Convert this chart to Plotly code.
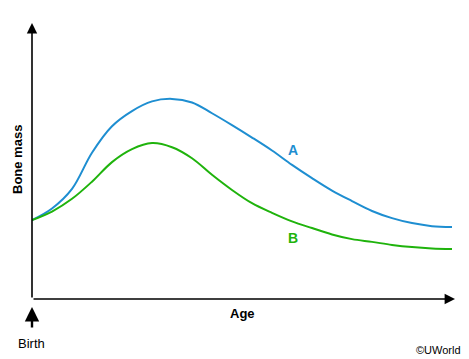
import plotly.graph_objects as go

# Sample ages (0-100 scale)
age = [0, 4.73, 9.46, 14.18, 18.91, 23.64, 28.37, 33.10, 37.83, 42.55, 47.28,
       52.01, 56.74, 61.47, 66.19, 70.92, 75.65, 80.38, 85.11, 89.83, 94.56, 99.29]

# Curve A (blue) bone mass
mass_a = [28.6, 32.8, 39.9, 53.0, 62.6, 68.1, 71.6, 72.5, 71.2, 67.3, 63.0,
          58.5, 53.8, 48.6, 43.8, 39.3, 35.5, 31.9, 29.3, 27.5, 26.4, 26.1]

# Curve B (green) bone mass
mass_b = [28.6, 31.7, 36.3, 42.5, 49.6, 54.3, 56.5, 55.0, 51.0, 45.0, 39.5,
          34.7, 31.2, 28.1, 25.7, 23.4, 21.7, 20.7, 19.6, 18.8, 18.3, 18.1]

curve_labels = ["A", "B"]
label_age = [61.7, 61.7]
label_mass = [53.3, 21.4]

BLUE = "#1e8ed1"
GREEN = "#1fb30c"
FONT = "Liberation Sans, Arial, sans-serif"

W, H = 469, 359
pl, pr, pt, pb = 32, 14, 23, 60
pw, ph = W - pl - pr, H - pt - pb


def paper(px, py):
    return (px - pl) / pw, (H - pb - py) / ph


fig = go.Figure()
fig.add_trace(go.Scatter(x=age, y=mass_a, mode="lines",
                         line=dict(color=BLUE, width=2, shape="spline", smoothing=1.0),
                         hoverinfo="skip"))
fig.add_trace(go.Scatter(x=age, y=mass_b, mode="lines",
                         line=dict(color=GREEN, width=2, shape="spline", smoothing=1.0),
                         hoverinfo="skip"))
fig.add_trace(go.Scatter(x=label_age, y=label_mass, mode="text", text=[f"<b>{t}</b>" for t in curve_labels],
                         textfont=dict(family=FONT, size=14, color=[BLUE, GREEN]),
                         hoverinfo="skip", cliponaxis=False))

ann = []
# axes arrows
ann.append(dict(x=0, y=1, ax=0, ay=0, xref="x domain", yref="y domain", axref="x domain", ayref="y domain",
                showarrow=True, arrowhead=2, arrowsize=1.3, arrowwidth=1.6, arrowcolor="black", text=""))
ann.append(dict(x=1, y=0, ax=0, ay=0, xref="x domain", yref="y domain", axref="x domain", ayref="y domain",
                showarrow=True, arrowhead=2, arrowsize=1.3, arrowwidth=1.6, arrowcolor="black", text=""))
# birth arrow (pixel offsets)
tx, ty = paper(32, 307)
ann.append(dict(x=tx, y=ty, ax=0, ay=22, xref="paper", yref="paper",
                showarrow=True, arrowhead=2, arrowsize=1.2, arrowwidth=2.4, arrowcolor="black", text=""))


def label(px, py, text, size=13, **kw):
    x, y = paper(px, py)
    d = dict(x=x, y=y, xref="paper", yref="paper", text=text, showarrow=False,
             xanchor="center", yanchor="middle",
             font=dict(family=FONT, size=size, color="black"))
    d.update(kw)
    ann.append(d)


label(17, 160, "<b>Bone mass</b>", textangle=-90)
label(242, 313, "<b>Age</b>")
label(31, 343, "Birth")
label(463, 350, "©UWorld", size=11, xanchor="right")

fig.update_layout(
    width=W, height=H,
    margin=dict(l=pl, r=pr, t=pt, b=pb),
    paper_bgcolor="white", plot_bgcolor="white",
    showlegend=False,
    xaxis=dict(range=[0, 100], visible=False, fixedrange=True),
    yaxis=dict(range=[0, 100], visible=False, fixedrange=True),
    annotations=ann,
)

fig.write_html("out.html", config={"displayModeBar": False},
               post_script="document.body.style.margin='0';")
